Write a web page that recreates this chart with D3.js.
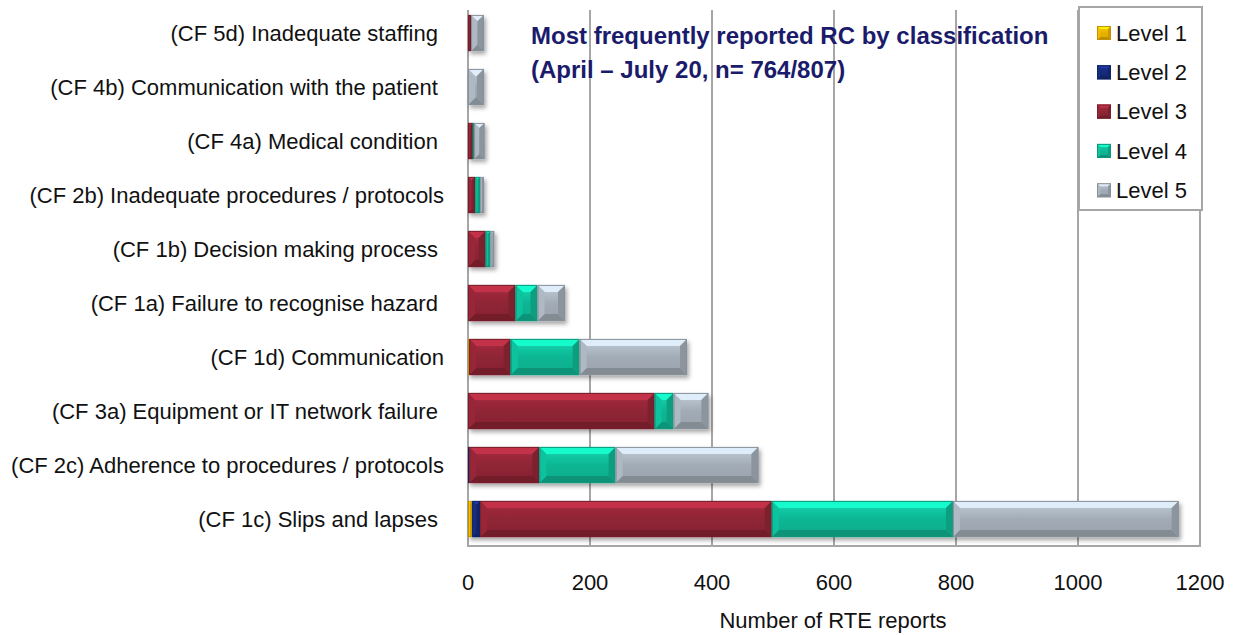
<!DOCTYPE html>
<html>
<head>
<meta charset="utf-8">
<script src="https://cdn.jsdelivr.net/npm/d3@7"></script>
<style>
  body { margin: 0; background: #fff; }
  text { font-family: "Liberation Sans", Arial, sans-serif; }
</style>
</head>
<body>
<div id="chart-area"></div>
<script>
// DATA (top to bottom)
var categories = [
    "(CF 5d) Inadequate staffing ",
    "(CF 4b) Communication with the patient ",
    "(CF 4a) Medical condition ",
    "(CF 2b) Inadequate procedures / protocols",
    "(CF 1b) Decision making process ",
    "(CF 1a) Failure to recognise hazard ",
    "(CF 1d) Communication",
    "(CF 3a) Equipment or IT network failure ",
    "(CF 2c) Adherence to procedures / protocols",
    "(CF 1c) Slips and lapses "
];
var level1 = [0, 0, 0, 0, 0, 0, 2, 0, 0, 7];
var level2 = [0, 0, 0, 0, 0, 0, 0, 0, 2, 13];
var level3 = [5, 0, 8, 12, 29, 78, 68, 306, 115, 478];
var level4 = [0, 0, 2, 8, 8, 36, 113, 31, 125, 297];
var level5 = [21, 26, 17, 6, 6, 45, 176, 57, 234, 370];
var seriesNames = ["Level 1", "Level 2", "Level 3", "Level 4", "Level 5"];
var xTicks = [0, 200, 400, 600, 800, 1000, 1200];

var colors = ["#e8b000", "#152a78", "#8e2535", "#10b694", "#a2acb6"];

var width = 1236, height = 635;
var plot = { left: 468, right: 1200, top: 6, bottom: 546 };

var svg = d3.select("#chart-area")
    .append("svg")
    .attr("width", width)
    .attr("height", height);

var defs = svg.append("defs");
var shadow = defs.append("filter").attr("id", "shadow")
    .attr("x", "-10%").attr("y", "-20%").attr("width", "130%").attr("height", "150%");
shadow.append("feDropShadow")
    .attr("dx", 2).attr("dy", 3).attr("stdDeviation", 2)
    .attr("flood-color", "#000").attr("flood-opacity", 0.35);

// front-face gradients
colors.forEach(function (c, i) {
    var gr = defs.append("linearGradient").attr("id", "grad" + i)
        .attr("x1", 0).attr("y1", 0).attr("x2", 0).attr("y2", 1);
    gr.append("stop").attr("offset", "0%").attr("stop-color", d3.color(c).brighter(0.5));
    gr.append("stop").attr("offset", "50%").attr("stop-color", c);
    gr.append("stop").attr("offset", "100%").attr("stop-color", d3.color(c).darker(0.15));
});

// SCALES
var x = d3.scaleLinear().domain([0, 1200]).range([plot.left, plot.right]);
var y = d3.scaleBand().domain(categories).range([plot.top, plot.bottom]).paddingInner(0.33).paddingOuter(0.165);

// gridlines
svg.append("g").selectAll("line")
    .data(xTicks.slice(1, -1))
    .enter().append("line")
    .attr("x1", function (d) { return x(d); })
    .attr("x2", function (d) { return x(d); })
    .attr("y1", plot.top + 4).attr("y2", plot.bottom)
    .attr("stroke", "#a6a6a6").attr("stroke-width", 2);

// plot border (right, bottom) and left axis
svg.append("path")
    .attr("d", "M" + x(0) + "," + (plot.top + 4) + "V" + plot.bottom + "H" + x(1200) + "V" + (plot.top + 4))
    .attr("fill", "none").attr("stroke", "#a6a6a6").attr("stroke-width", 2);

// stack
var rows = categories.map(function (c, i) {
    return { cat: c, v: [level1[i], level2[i], level3[i], level4[i], level5[i]] };
});
var segs = [];
rows.forEach(function (r) {
    var acc = 0;
    r.v.forEach(function (v, k) {
        if (v > 0) segs.push({ cat: r.cat, k: k, x0: acc, x1: acc + v });
        acc += v;
    });
});

function bevel(g, x0, x1, y0, y1, k, b) {
    var c = colors[k];
    var w = x1 - x0, h = y1 - y0;
    b = Math.min(b, w / 2, h / 2);
    g.append("rect").attr("x", x0).attr("y", y0).attr("width", w).attr("height", h)
        .attr("fill", "url(#grad" + k + ")");
    var pts = function (a) { return a.map(function (p) { return p.join(","); }).join(" "); };
    g.append("polygon").attr("points", pts([[x0, y0], [x1, y0], [x1 - b, y0 + b], [x0 + b, y0 + b]]))
        .attr("fill", d3.color(c).brighter(0.9));
    g.append("polygon").attr("points", pts([[x0, y1], [x1, y1], [x1 - b, y1 - b], [x0 + b, y1 - b]]))
        .attr("fill", d3.color(c).darker(0.6));
    g.append("polygon").attr("points", pts([[x0, y0], [x0 + b, y0 + b], [x0 + b, y1 - b], [x0, y1]]))
        .attr("fill", d3.color(c).brighter(0.2));
    g.append("polygon").attr("points", pts([[x1, y0], [x1 - b, y0 + b], [x1 - b, y1 - b], [x1, y1]]))
        .attr("fill", d3.color(c).darker(0.4));
    g.append("rect").attr("x", x0 + 0.5).attr("y", y0 + 0.5).attr("width", Math.max(0, w - 1)).attr("height", h - 1)
        .attr("fill", "none").attr("stroke", d3.color(c).darker(0.5)).attr("stroke-width", 1);
}

var barsG = svg.append("g").attr("filter", "url(#shadow)");
segs.forEach(function (s) {
    var g = barsG.append("g");
    bevel(g, x(s.x0), x(s.x1), y(s.cat), y(s.cat) + y.bandwidth(), s.k, 7);
});

// category labels
svg.append("g").selectAll("text")
    .data(categories)
    .enter().append("text")
    .attr("x", 444)
    .attr("y", function (d) { return y(d) + y.bandwidth() / 2; })
    .attr("dy", "0.35em")
    .attr("text-anchor", "end")
    .style("white-space", "pre")
    .attr("font-size", "22px")
    .attr("fill", "#111")
    .text(function (d) { return d; });

// x tick labels
svg.append("g").selectAll("text")
    .data(xTicks)
    .enter().append("text")
    .attr("x", function (d) { return x(d); })
    .attr("y", 590)
    .attr("text-anchor", "middle")
    .attr("font-size", "22px")
    .attr("fill", "#111")
    .text(function (d) { return d; });

svg.append("text")
    .attr("x", 833).attr("y", 628)
    .attr("text-anchor", "middle")
    .attr("font-size", "22px")
    .attr("fill", "#111")
    .text("Number of RTE reports");

// title
var title = svg.append("text")
    .attr("x", 531).attr("y", 44)
    .attr("font-size", "24px").attr("font-weight", "bold")
    .attr("fill", "#1b1b6b");
title.append("tspan").attr("x", 531).text("Most frequently reported RC by classification");
title.append("tspan").attr("x", 531).attr("dy", 34).text("(April \u2013 July 20, n= 764/807)");

// legend
var lg = svg.append("g");
lg.append("rect")
    .attr("x", 1079).attr("y", 7).attr("width", 123).attr("height", 203)
    .attr("fill", "#fff").attr("stroke", "#a6a6a6").attr("stroke-width", 2);
seriesNames.forEach(function (n, i) {
    var cy = 33 + i * 39.3;
    var sg = lg.append("g");
    bevel(sg, 1097, 1111, cy - 7, cy + 7, i, 3);
    lg.append("text")
        .attr("x", 1116).attr("y", cy).attr("dy", "0.35em")
        .attr("font-size", "22px").attr("fill", "#111")
        .text(n);
});
</script>
</body>
</html>
